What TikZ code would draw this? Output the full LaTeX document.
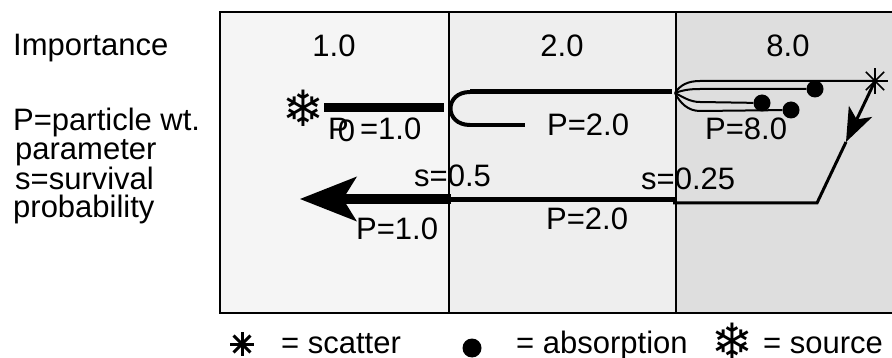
\documentclass[tikz,border=0pt]{standalone}
\usepackage{fontspec}
\setmainfont{Liberation Sans}
\newfontfamily\dingfont{DejaVu Sans}
\usetikzlibrary{arrows.meta, positioning}
\definecolor{zoneA}{HTML}{F5F5F5}
\definecolor{zoneB}{HTML}{EEEEEE}
\definecolor{zoneC}{HTML}{DEDEDE}

\begin{document}
\begin{tikzpicture}[x=1pt, y=-1pt,
  txt/.style={font=\fontsize{31}{31}\selectfont, inner sep=0pt, anchor=base west},
  flake/.style={font=\dingfont\fontsize{50}{50}\selectfont, inner sep=0pt},
  dot/.style={circle, fill=black, inner sep=0pt, minimum size=17pt},
  wall/.style={line width=2pt},
  trk/.style={line width=2pt}
]
  \useasboundingbox (0,0) rectangle (892,358);
  % importance zones
  \fill[zoneA] (220,12) rectangle (449,313);
  \fill[zoneB] (449,12) rectangle (676,313);
  \fill[zoneC] (676,12) rectangle (892,313);
  \draw[wall] (892,12) -- (220,12) -- (220,313) -- (892,313);
  \draw[wall] (449,12) -- (449,313);
  \draw[wall] (676,12) -- (676,313);

  % left column
  \node[txt] (imp) at (13,56) {Importance};
  \node[txt] (defP) at (13,131) {P=particle wt.};
  \node[txt] (defPar) at (15,160) {parameter};
  \node[txt] (defS) at (15,190) {s=survival};
  \node[txt] (defProb) at (13,218) {probability};
  \node[txt, anchor=base] (imp1) at (334,57) {1.0};
  \node[txt, anchor=base] (imp2) at (562,57) {2.0};
  \node[txt, anchor=base] (imp8) at (788,57) {8.0};

  % forward track, split at each zone boundary
  \node[flake] (src) at (303,108) {❄};
  \coordinate (cin) at (444,108);
  \coordinate (cup) at (470,92);
  \coordinate (clo) at (470,125);
  \coordinate (lo) at (525,125);
  \coordinate (hi) at (672,92);
  \coordinate (fork) at (675,93);
  \draw[line width=9pt] (src) -- (cin);
  \draw[line width=4pt] (cup) .. controls (444,92) and (444,125) .. (clo);
  \draw[line width=5pt] (cup) -- (hi);
  \draw[line width=4pt] (clo) -- (lo);

  \node[dot] (a1) at (815,89) {};
  \node[dot] (a2) at (762,103) {};
  \node[dot] (a3) at (791,110) {};
  \node[inner sep=0pt] (sc) at (875,81) {};
  \foreach \ang in {0,45,...,315}
    \draw[line width=1.5pt] (sc.center) -- ++(\ang:13);
  \draw[trk] (fork) .. controls (680,85) and (688,81) .. (700,81) -- (sc);
  \draw[trk] (fork) .. controls (683,90) and (690,89) .. (700,89) -- (a1);
  \draw[trk] (fork) .. controls (683,97) and (690,102) .. (700,102) -- (a2);
  \draw[trk] (fork) .. controls (680,103) and (688,111) .. (700,111) -- (a3);

  % return track after the scatter
  \coordinate (mid) at (846,142);
  \coordinate (bend) at (817,203);
  \coordinate (b3) at (673,203);
  \coordinate (b2r) at (677,200);
  \coordinate (b2l) at (449,200);
  \coordinate (b1) at (451,199);
  \coordinate (tip) at (300,199);
  \draw[line width=3pt, -{Stealth[length=34pt, width=26pt, inset=9pt, line width=0pt]}] (sc) -- (mid);
  \draw[line width=3pt] (mid) -- (bend) -- (b3);
  \draw[line width=5pt] (b2r) -- (b2l);
  \draw[line width=10pt, -{Stealth[length=57pt, width=45pt, inset=14pt, line width=0pt]}] (b1) -- (tip);

  % weights and survival
  \node[txt] (w0) at (328,140) {P\kern-11pt\lower2pt\hbox{0}\kern5pt =1.0};
  \node[txt] (w2a) at (547,136) {P=2.0};
  \node[txt] (w8) at (705,140) {P=8.0};
  \node[txt] (s1) at (414,187) {s=0.5};
  \node[txt] (s2) at (641,190) {s=0.25};
  \node[txt] (w1) at (356,240) {P=1.0};
  \node[txt] (w2b) at (546,230) {P=2.0};

  % key
  \node[inner sep=0pt] (kS) at (242,344) {};
  \foreach \ang in {0,45,...,315}
    \draw[line width=3pt] (kS.center) -- ++(\ang:12);
  \node[txt] (kSt) at (281,353) {= scatter};
  \node[dot, minimum size=19pt] (kA) at (472,348) {};
  \node[txt] (kAt) at (516,353) {= absorption};
  \node[flake] (kF) at (732,341) {❄};
  \node[txt] (kFt) at (763,353) {= source};
\end{tikzpicture}
\end{document}
